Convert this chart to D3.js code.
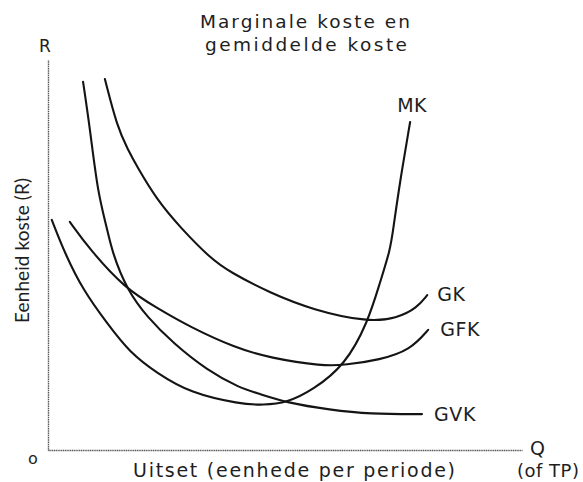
<!DOCTYPE html>
<html><head><meta charset="utf-8">
<script src="https://cdn.jsdelivr.net/npm/d3@7"></script>
<style>html,body{margin:0;padding:0;background:#fff;} svg{display:block}</style>
</head><body>
<svg id="c" width="583" height="482"></svg>
<script>
// ---- data (quantity Q, unit cost R) ----
const titleLines = ["Marginale koste en", "gemiddelde koste"];
const yAxisLabel = "Eenheid koste (R)";
const yAxisLetter = "R";
const xAxisLetter = "Q";
const originLabel = "o";
const xAxisLabel = "Uitset (eenhede per periode)";
const xAxisLabel2 = "(of TP)";

const mk  = [[0.8,59.0],[3.6,50.3],[7.4,41.0],[12.4,32.6],[17.3,24.9],[23.0,19.7],[30.0,14.6],[40.5,11.8],[45.4,11.5],[50.4,12.1],[55.9,15.4],[62.7,21.8],[67.5,32.8],[70.0,42.8],[72.2,51.3],[72.8,56.4],[74.3,69.2],[76.4,84.1]];
const gk  = [[12.0,95.1],[14.6,82.8],[16.9,76.9],[18.8,72.6],[23.0,64.1],[27.8,57.2],[34.2,49.2],[38.4,45.6],[46.8,40.3],[55.9,35.9],[67.5,32.8],[73.6,33.8],[77.8,36.4],[80.0,39.7]];
const gfk = [[4.6,58.5],[8.9,51.3],[16.2,41.5],[23.0,36.4],[30.0,31.5],[39.5,26.2],[46.8,23.6],[58.0,21.5],[62.7,21.8],[70.0,23.1],[76.4,25.6],[80.2,30.8]];
const gvk = [[7.4,94.4],[8.9,82.0],[10.5,65.9],[12.4,57.2],[13.5,50.8],[16.7,41.0],[20.9,34.1],[26.4,27.4],[33.5,20.5],[40.5,15.9],[44.1,14.6],[50.4,12.1],[59.5,10.3],[67.9,9.2],[78.9,9.2]];
const seriesNames = ["MK", "GK", "GFK", "GVK"];
const seriesData = [mk, gk, gfk, gvk];

// ---- drawing ----
const svg = d3.select("#c");
const x = d3.scaleLinear().domain([0, 100]).range([48, 522]);
const y = d3.scaleLinear().domain([0, 100]).range([450, 60]);
const font = "'DejaVu Sans', Verdana, sans-serif";
const ink = "#1e1e1e";

// spread text to a target width via letter-spacing
function spread(sel, w) {
  const txt = sel.text();
  const len = sel.node().getComputedTextLength();
  sel.attr("letter-spacing", (w - len) / Math.max(1, txt.length - 1));
  return sel;
}

// axes (no ticks)
const gx = svg.append("g").attr("transform", `translate(0,${y(0)})`)
  .call(d3.axisBottom(x).tickValues([]).tickSizeOuter(0));
const gy = svg.append("g").attr("transform", `translate(${x(0)},0)`)
  .call(d3.axisLeft(y).tickValues([]).tickSizeOuter(0));
[gx, gy].forEach(g => g.select(".domain")
  .attr("stroke", "#555").attr("stroke-width", 1.4)
  .attr("stroke-dasharray", "1.2,0.6"));

// curves (smoothed B-spline through the read-off points)
const line = d3.line().x(d => x(d[0])).y(d => y(d[1])).curve(d3.curveBasis);
svg.append("g").selectAll("path").data(seriesData).join("path")
  .attr("d", line)
  .attr("fill", "none")
  .attr("stroke", "#141414")
  .attr("stroke-width", 2.1)
  .attr("stroke-linecap", "round");

// curve labels
const labelPos = [
  {dx: -13, dy: -10},
  {dx: 10, dy: 6},
  {dx: 12, dy: 6},
  {dx: 12, dy: 7}
];
seriesNames.forEach((n, i) => {
  const d = seriesData[i];
  const end = d[d.length - 1];
  svg.append("text")
    .attr("x", x(end[0]) + labelPos[i].dx)
    .attr("y", y(end[1]) + labelPos[i].dy)
    .attr("font-family", font).attr("font-size", 19)
    .attr("letter-spacing", 0.6)
    .attr("fill", ink)
    .text(n);
});

// title
const t1 = svg.append("text").attr("x", 200).attr("y", 28)
  .attr("font-family", font).attr("font-size", 18.5).attr("fill", ink).text(titleLines[0]);
spread(t1, 210);
const t2 = svg.append("text").attr("x", 205).attr("y", 51)
  .attr("font-family", font).attr("font-size", 18.5).attr("fill", ink).text(titleLines[1]);
spread(t2, 202);

// axis letters
svg.append("text").attr("x", x(0) - 3).attr("y", 52).attr("text-anchor", "middle")
  .attr("font-family", font).attr("font-size", 17).attr("fill", ink).text(yAxisLetter);
svg.append("text").attr("x", x(100) + 8).attr("y", y(0) + 5)
  .attr("font-family", font).attr("font-size", 19).attr("fill", ink).text(xAxisLetter);
svg.append("text").attr("x", 33).attr("y", y(0) + 14).attr("text-anchor", "middle")
  .attr("font-family", font).attr("font-size", 16).attr("fill", ink).text(originLabel);

// axis titles
const xl = svg.append("text").attr("x", 133).attr("y", 477)
  .attr("font-family", font).attr("font-size", 19).attr("fill", ink).text(xAxisLabel);
spread(xl, 322);
const xl2 = svg.append("text").attr("x", 517).attr("y", 477)
  .attr("font-family", font).attr("font-size", 18).attr("fill", ink).text(xAxisLabel2);
spread(xl2, 62);
const yl = svg.append("text")
  .attr("transform", "translate(29,323) rotate(-90)")
  .attr("font-family", "Lato, 'Open Sans', sans-serif").attr("font-size", 19)
  .attr("fill", ink).text(yAxisLabel);
spread(yl, 145);
</script>
</body></html>
